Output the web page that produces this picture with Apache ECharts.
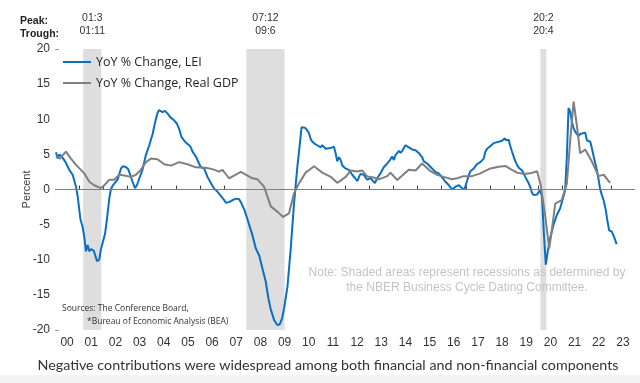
<!DOCTYPE html>
<html><head><meta charset="utf-8">
<script src="https://cdn.jsdelivr.net/npm/echarts@6/dist/echarts.min.js"></script>
<style>html,body{margin:0;padding:0;background:#fff}#c{width:640px;height:383px}</style>
</head><body><div id="c"></div>
<script>
// ---- data ----
const leiT = [2000.04,2000.11,2000.18,2000.25,2000.32,2000.45,2000.59,2000.73,2000.87,2000.94,2001.05,2001.14,2001.21,2001.28,2001.35,2001.42,2001.49,2001.6,2001.67,2001.74,2001.83,2001.9,2001.97,2002.07,2002.15,2002.25,2002.31,2002.38,2002.45,2002.59,2002.73,2002.8,2002.87,2002.93,2003.03,2003.11,2003.21,2003.31,2003.39,2003.49,2003.62,2003.76,2003.9,2004.04,2004.13,2004.24,2004.3,2004.38,2004.45,2004.55,2004.66,2004.77,2004.84,2004.91,2005.04,2005.14,2005.23,2005.3,2005.38,2005.45,2005.55,2005.62,2005.69,2005.76,2005.83,2005.96,2006.03,2006.17,2006.31,2006.38,2006.5,2006.59,2006.72,2006.86,2007.0,2007.07,2007.2,2007.35,2007.5,2007.62,2007.72,2007.85,2007.96,2008.1,2008.17,2008.31,2008.45,2008.58,2008.72,2008.83,2008.93,2009.07,2009.2,2009.3,2009.4,2009.48,2009.62,2009.75,2009.89,2010.03,2010.12,2010.2,2010.27,2010.34,2010.42,2010.51,2010.58,2010.65,2010.75,2010.85,2010.92,2010.99,2011.06,2011.13,2011.2,2011.27,2011.4,2011.54,2011.61,2011.68,2011.75,2011.82,2011.89,2012.02,2012.1,2012.16,2012.3,2012.42,2012.51,2012.58,2012.64,2012.78,2012.85,2012.92,2013.06,2013.13,2013.24,2013.33,2013.47,2013.54,2013.61,2013.75,2013.88,2013.95,2014.02,2014.09,2014.23,2014.3,2014.37,2014.5,2014.57,2014.64,2014.78,2014.85,2014.92,2015.05,2015.12,2015.19,2015.26,2015.33,2015.4,2015.47,2015.6,2015.74,2015.81,2015.88,2015.95,2016.09,2016.16,2016.3,2016.37,2016.43,2016.48,2016.57,2016.64,2016.71,2016.78,2016.84,2016.94,2017.05,2017.12,2017.19,2017.33,2017.4,2017.46,2017.6,2017.67,2017.74,2017.81,2017.88,2017.95,2018.02,2018.09,2018.15,2018.22,2018.36,2018.43,2018.5,2018.57,2018.61,2018.67,2018.71,2018.77,2018.84,2018.91,2019.05,2019.12,2019.19,2019.33,2019.4,2019.46,2019.6,2019.67,2019.74,2019.81,2019.88,2019.95,2020.01,2020.06,2020.15,2020.23,2020.31,2020.4,2020.49,2020.63,2020.77,2020.9,2021.0,2021.11,2021.18,2021.25,2021.32,2021.39,2021.46,2021.53,2021.66,2021.73,2021.8,2021.94,2022.01,2022.08,2022.15,2022.22,2022.29,2022.42,2022.49,2022.56,2022.63,2022.7,2022.79,2022.86,2022.93,2023.04,2023.13,2023.24];
const leiV = [5.3,4.4,5.0,4.8,4.5,3.8,2.8,2.1,0.4,-1.0,-4.2,-5.3,-6.7,-8.8,-7.9,-8.8,-8.5,-8.7,-8.5,-10.2,-10.0,-8.5,-7.6,-6.3,-4.2,-1.2,0.0,0.5,0.7,1.4,3.0,3.3,3.2,3.2,2.9,2.1,1.1,0.2,0.6,1.6,2.8,4.9,6.3,7.9,9.4,10.9,11.3,11.2,11.0,11.2,10.8,10.3,10.1,9.9,9.4,8.6,7.5,7.4,6.8,6.6,6.3,6.0,5.4,5.2,4.7,3.7,3.2,3.0,1.8,1.6,0.6,0.1,-0.3,-0.9,-1.5,-1.9,-1.8,-1.5,-1.3,-1.4,-2.0,-3.0,-4.2,-5.75,-6.5,-8.4,-9.4,-11.2,-13.1,-15.5,-17.1,-18.6,-19.3,-19.2,-18.3,-16.9,-13.8,-8.6,-2.0,3.3,6.1,8.85,8.9,8.8,8.5,8.0,7.2,6.8,6.5,6.3,6.2,6.0,6.3,6.2,5.8,5.6,5.9,6.1,5.2,4.0,4.6,4.2,3.4,3.0,3.1,2.8,2.1,1.6,1.2,1.8,2.2,2.1,1.7,1.4,1.6,1.4,0.9,1.6,2.3,2.5,3.2,3.7,4.3,4.7,4.2,4.9,5.5,5.2,5.5,6.3,6.1,6.0,5.7,5.5,5.6,5.2,4.9,4.6,4.0,4.2,3.7,3.8,3.0,2.5,2.4,2.3,2.0,1.4,1.1,0.6,0.4,0.0,-0.2,0.4,0.3,0.6,0.5,0.2,0.0,1.2,2.0,2.6,3.0,3.1,3.6,3.9,4.0,4.4,5.4,5.8,6.0,6.2,6.3,6.6,6.7,6.8,6.8,6.95,7.0,7.3,7.0,7.1,7.1,6.2,5.4,4.0,3.5,3.1,2.7,2.5,1.8,0.9,0.3,-0.5,-0.8,-0.8,-0.7,-0.6,-0.1,-0.9,-6.3,-10.7,-8.6,-6.9,-5.0,-3.6,-2.7,-1.5,-0.1,4.7,11.6,11.1,9.6,8.7,8.2,7.6,7.9,8.0,8.1,7.0,7.1,6.8,5.8,4.7,2.8,1.5,0.0,-0.8,-1.5,-2.9,-4.5,-5.8,-6.0,-6.7,-7.8];

const gdpT = [2000.04,2000.2,2000.45,2000.66,2000.87,2001.07,2001.21,2001.42,2001.62,2001.9,2002.04,2002.25,2002.45,2002.66,2002.87,2003.14,2003.35,2003.55,2003.76,2003.97,2004.24,2004.52,2004.8,2005.14,2005.48,2005.83,2006.24,2006.51,2006.79,2006.93,2007.2,2007.69,2008.17,2008.38,2008.65,2008.93,2009.2,2009.44,2009.68,2009.89,2010.1,2010.37,2010.72,2011.06,2011.41,2011.68,2012.03,2012.23,2012.51,2012.71,2012.92,2013.19,2013.4,2013.75,2013.88,2014.16,2014.5,2014.64,2014.92,2015.19,2015.54,2015.81,2016.09,2016.43,2016.64,2016.91,2017.26,2017.6,2018.02,2018.36,2018.64,2018.85,2019.12,2019.4,2019.67,2019.95,2020.1,2020.29,2020.45,2020.56,2020.7,2020.97,2021.18,2021.32,2021.46,2021.6,2021.73,2021.94,2022.22,2022.49,2022.7,2022.97];
const gdpV = [4.7,4.4,5.4,4.4,3.5,2.8,2.3,1.1,0.6,0.2,0.6,1.4,1.4,2.1,2.0,1.8,2.1,2.8,3.9,4.4,4.3,3.6,3.4,3.9,3.6,3.15,3.1,2.9,2.55,2.8,1.6,2.5,1.6,1.45,0.4,-2.4,-3.15,-3.9,-3.4,-0.55,0.9,2.4,3.3,2.4,1.8,0.95,1.8,2.7,2.55,2.7,1.85,1.7,1.45,1.9,2.4,1.35,2.4,2.8,2.7,3.7,2.6,2.1,1.8,1.45,1.6,1.9,1.9,2.3,3.0,3.25,3.35,2.9,2.4,2.2,2.3,2.6,0.6,-3.85,-8.4,-5.75,-2.0,-1.5,0.85,7.0,12.5,9.0,5.15,5.7,3.95,1.9,2.1,0.95];

const recessionStart = [2001.167, 2007.917, 2020.083];
const recessionEnd   = [2001.917, 2009.5, 2020.333];
const peakLabels   = ['01:3', '07:12', '20:2'];
const troughLabels = ['01:11', '09:6', '20:4'];

const yearLabels = ['00','01','02','03','04','05','06','07','08','09','10','11','12','13','14','15','16','17','18','19','20','21','22','23'];
const yTicks = [-20,-15,-10,-5,0,5,10,15,20];

const seriesNames = ['YoY % Change, LEI', 'YoY % Change, Real GDP'];

// ---- build ----
const leiData = leiT.map((t, i) => [t, leiV[i]]);
const gdpData = gdpT.map((t, i) => [t, gdpV[i]]);
const labelPos = yearLabels.map((s, i) => 2000 + i + 0.5);
const tickPos = yearLabels.slice(1).map((s, i) => 2001 + i);

const chart = echarts.init(document.getElementById('c'), null, {renderer: 'canvas'});
const font = 'Liberation Sans, Arial, sans-serif';

chart.setOption({
  animation: false,
  backgroundColor: '#ffffff',
  grid: {left: 55, right: 5, top: 49, bottom: 53},
  legend: {
    orient: 'vertical', left: 63, top: 55, padding: 0,
    icon: 'rect', itemWidth: 28, itemHeight: 2, itemGap: 7,
    textStyle: {fontFamily: 'Open Sans, sans-serif', fontSize: 12.5, lineHeight: 14, color: '#262626'},
    data: seriesNames
  },
  xAxis: {
    type: 'value', min: 2000, max: 2024,
    axisLine: {show: false},
    splitLine: {show: false},
    axisTick: {show: true, inside: true, length: 4, customValues: tickPos, lineStyle: {color: '#404040'}},
    axisLabel: {
      customValues: labelPos, margin: 7,
      fontFamily: font, fontSize: 12, color: '#333',
      formatter: v => yearLabels[Math.floor(v) - 2000]
    }
  },
  yAxis: {
    type: 'value', min: -20, max: 20, interval: 5,
    name: 'Percent', nameLocation: 'middle', nameGap: 23, nameMoveOverlap: false,
    nameTextStyle: {fontFamily: font, fontSize: 11, color: '#404040'},
    axisLine: {show: false},
    axisTick: {show: true, inside: true, length: 4, customValues: [-20, 20], lineStyle: {color: '#999'}},
    axisLabel: {margin: 5, fontFamily: font, fontSize: 12, color: '#333', customValues: yTicks},
    splitLine: {show: true, showMinLine: false, showMaxLine: false, lineStyle: {color: '#b4b4b4', type: [2, 2], width: 1}}
  },
  series: [
    {
      name: seriesNames[0], type: 'line', data: leiData,
      symbol: 'none', showSymbol: false, z: 3,
      lineStyle: {color: '#0a6fc2', width: 2},
      itemStyle: {color: '#0a6fc2'},
      markArea: {
        silent: true,
        itemStyle: {color: '#dedede'},
        label: {
          show: true, position: 'top', distance: 11,
          fontFamily: font, fontSize: 10.5, lineHeight: 13, color: '#333'
        },
        data: recessionStart.map((s, i) => [
          {xAxis: s, name: peakLabels[i] + '\n' + troughLabels[i]},
          {xAxis: recessionEnd[i]}
        ])
      },
      markLine: {
        silent: true, symbol: 'none', label: {show: false},
        lineStyle: {color: '#808080', type: 'solid', width: 1},
        data: [{yAxis: 0}]
      }
    },
    {
      name: seriesNames[1], type: 'line', data: gdpData,
      symbol: 'none', showSymbol: false, z: 4,
      lineStyle: {color: '#7f7f7f', width: 2},
      itemStyle: {color: '#7f7f7f'}
    }
  ],
  graphic: [
    {type: 'text', x: 20, y: 14, z: 100, style: {text: 'Peak:\nTrough:', font: 'bold 10.5px ' + font, lineHeight: 13.5, fill: '#222'}},
    {type: 'text', x: 467, y: 265, z: 100, style: {text: 'Note: Shaded areas represent recessions as determined by\nthe NBER Business Cycle Dating Committee.', font: '12px ' + font, lineHeight: 15, fill: '#c4c4c4', align: 'center'}},
    {type: 'text', x: 62, y: 304, z: 100, style: {text: 'Sources: The Conference Board,', font: '8.5px Open Sans, sans-serif', fill: '#333'}},
    {type: 'text', x: 87, y: 317, z: 100, style: {text: '*Bureau of Economic Analysis (BEA)', font: '8.5px Open Sans, sans-serif', fill: '#333'}},
    {type: 'rect', shape: {x: 0, y: 375, width: 640, height: 8}, style: {fill: '#f4f4f4'}, z: -1},
    {type: 'text', x: 328, y: 358, z: 100, style: {text: 'Negative contributions were widespread among both financial and non-financial components', font: '14.3px Lato, sans-serif', fill: '#333', align: 'center'}}
  ]
});
</script>
</body></html>
